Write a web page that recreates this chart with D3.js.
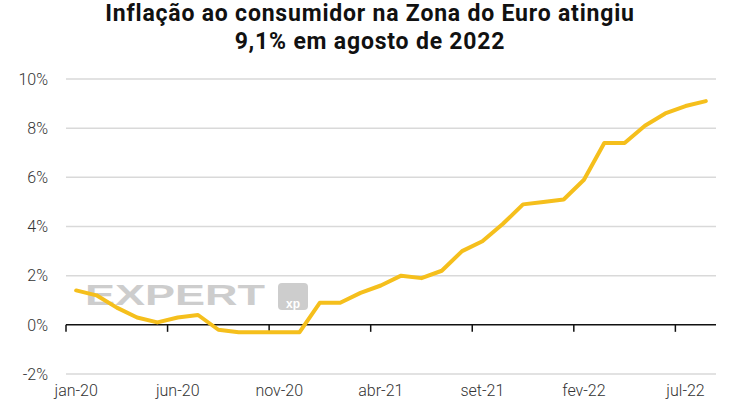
<!DOCTYPE html>
<html>
<head>
<meta charset="utf-8">
<script src="https://cdn.jsdelivr.net/npm/d3@7"></script>
<style>
  body { margin: 0; background: #fff; }
  svg { display: block; }
</style>
</head>
<body>
<div id="chart"></div>
<script>
const width = 741;
const height = 400;
const margin = {left: 66, right: 25, top: 79, bottom: 26};

// Monthly euro area consumer inflation, jan-20 .. ago-22 (% y/y)
const months = ["jan-20","fev-20","mar-20","abr-20","mai-20","jun-20","jul-20","ago-20","set-20","out-20","nov-20","dez-20",
                "jan-21","fev-21","mar-21","abr-21","mai-21","jun-21","jul-21","ago-21","set-21","out-21","nov-21","dez-21",
                "jan-22","fev-22","mar-22","abr-22","mai-22","jun-22","jul-22","ago-22"];
const inflation = [1.4, 1.2, 0.7, 0.3, 0.1, 0.3, 0.4, -0.2, -0.3, -0.3, -0.3, -0.3,
                   0.9, 0.9, 1.3, 1.6, 2.0, 1.9, 2.2, 3.0, 3.4, 4.1, 4.9, 5.0,
                   5.1, 5.9, 7.4, 7.4, 8.1, 8.6, 8.9, 9.1];
const yTicks = [-2, 0, 2, 4, 6, 8, 10];
const xTickLabels = ["jan-20", "jun-20", "nov-20", "abr-21", "set-21", "fev-22", "jul-22"];
const titleLines = ["Inflação ao consumidor na Zona do Euro atingiu", "9,1% em agosto de 2022"];

const lineColor = "#f5bf1c";

let svg = d3.select("#chart")
    .append("svg")
    .attr("width", width)
    .attr("height", height);

svg.append("rect")
    .attr("width", width)
    .attr("height", height)
    .attr("fill", "#fff");

const x = d3.scaleBand()
    .domain(months)
    .range([margin.left, width - margin.right]);

const y = d3.scaleLinear()
    .domain([-2, 10])
    .range([374, margin.top]);

// Title
svg.append("g")
    .selectAll("text")
    .data(titleLines)
    .enter()
    .append("text")
    .attr("x", 370)
    .attr("y", (d, i) => 21 + i * 28)
    .attr("text-anchor", "middle")
    .attr("font-family", "Roboto")
    .attr("font-weight", 700)
    .attr("font-size", 23)
    .attr("letter-spacing", "0.8px")
    .attr("fill", "#111")
    .text(d => d);

// Gridlines
svg.append("g")
    .selectAll("line")
    .data(yTicks.filter(d => d !== 0))
    .enter()
    .append("line")
    .attr("x1", margin.left)
    .attr("x2", width - margin.right)
    .attr("y1", d => y(d))
    .attr("y2", d => y(d))
    .attr("stroke", "#d9d9d9")
    .attr("stroke-width", 1.5);

// Y labels
svg.append("g")
    .selectAll("text")
    .data(yTicks)
    .enter()
    .append("text")
    .attr("x", 48)
    .attr("y", d => y(d))
    .attr("dy", "0.36em")
    .attr("text-anchor", "end")
    .attr("font-family", "Roboto")
    .attr("font-weight", 300)
    .attr("font-size", 16)
    .attr("fill", "#333")
    .text(d => d + "%");

// Watermark
let mark = svg.append("g").attr("fill", "#cdcdcd");
mark.append("text")
    .attr("x", 85)
    .attr("y", 305)
    .attr("font-family", "Liberation Sans")
    .attr("font-weight", 700)
    .attr("font-size", 30)
    .attr("textLength", 180)
    .attr("lengthAdjust", "spacingAndGlyphs")
    .text("EXPERT");
mark.append("rect")
    .attr("x", 278)
    .attr("y", 283)
    .attr("width", 30)
    .attr("height", 27)
    .attr("rx", 4);
mark.append("text")
    .attr("x", 286)
    .attr("y", 308)
    .attr("font-family", "Liberation Sans")
    .attr("font-weight", 700)
    .attr("font-size", 12)
    .attr("fill", "#fff")
    .text("xp");

// Zero axis with ticks
svg.append("line")
    .attr("x1", margin.left)
    .attr("x2", width - margin.right)
    .attr("y1", y(0))
    .attr("y2", y(0))
    .attr("stroke", "#111")
    .attr("stroke-width", 1.5);

const tickMonths = months.filter(m => xTickLabels.includes(m));

svg.append("g")
    .selectAll("line")
    .data(tickMonths)
    .enter()
    .append("line")
    .attr("x1", d => x(d))
    .attr("x2", d => x(d))
    .attr("y1", y(0))
    .attr("y2", y(0) + 7)
    .attr("stroke", "#111")
    .attr("stroke-width", 1.5);

// X labels (sit at the bottom edge, as in the original)
svg.append("g")
    .selectAll("text")
    .data(tickMonths)
    .enter()
    .append("text")
    .attr("x", d => x(d) + x.bandwidth() / 2)
    .attr("y", 396)
    .attr("text-anchor", "middle")
    .attr("font-family", "Roboto")
    .attr("font-weight", 300)
    .attr("font-size", 16)
    .attr("fill", "#333")
    .text(d => d);

// Inflation line
const line = d3.line()
    .x((d, i) => x(months[i]) + x.bandwidth() / 2)
    .y(d => y(d));

svg.append("path")
    .datum(inflation)
    .attr("d", line)
    .attr("fill", "none")
    .attr("stroke", lineColor)
    .attr("stroke-width", 4)
    .attr("stroke-linecap", "round")
    .attr("stroke-linejoin", "round");
</script>
</body>
</html>
